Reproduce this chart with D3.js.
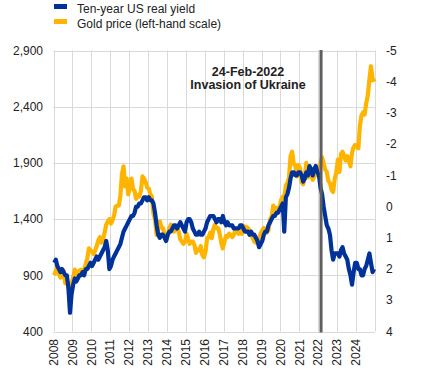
<!DOCTYPE html>
<html>
<head>
<meta charset="utf-8">
<script src="https://cdn.jsdelivr.net/npm/d3@7"></script>
<style>
  body { margin: 0; background: #fff; }
  text { font-family: Arial, "Liberation Sans", sans-serif; fill: #222; }
</style>
</head>
<body>
<div class="board"></div>
<script>
// monthly values, Jan 2008 - Dec 2024
var startYear = 2008;
var yearTicks = [2008, 2009, 2010, 2011, 2012, 2013, 2014, 2015, 2016, 2017, 2018, 2019, 2020, 2021, 2022, 2023, 2024];
var goldTicks = [400, 900, 1400, 1900, 2400, 2900];
var yieldTicks = [-5, -4, -3, -2, -1, 0, 1, 2, 3, 4];

var goldPrice = [
  900, 940, 980, 910, 880, 890, 940, 830, 840, 790, 750, 820,
  880, 950, 930, 890, 940, 950, 940, 950, 1000, 1050, 1140, 1120,
  1110, 1090, 1120, 1160, 1210, 1240, 1190, 1220, 1280, 1350, 1380, 1400,
  1360, 1390, 1430, 1510, 1520, 1520, 1600, 1800, 1870, 1690, 1760, 1620,
  1680, 1760, 1670, 1650, 1580, 1610, 1600, 1650, 1780, 1760, 1730, 1680,
  1670, 1620, 1600, 1450, 1400, 1260, 1300, 1380, 1330, 1320, 1260, 1210,
  1250, 1320, 1350, 1300, 1290, 1310, 1320, 1290, 1220, 1200, 1180, 1200,
  1270, 1220, 1180, 1200, 1200, 1170, 1100, 1130, 1120, 1160, 1080, 1060,
  1110, 1230, 1240, 1280, 1230, 1310, 1350, 1320, 1320, 1270, 1190, 1140,
  1200, 1250, 1240, 1270, 1260, 1240, 1260, 1310, 1290, 1270, 1280, 1270,
  1340, 1320, 1330, 1320, 1300, 1260, 1230, 1200, 1190, 1220, 1220, 1270,
  1300, 1320, 1300, 1280, 1300, 1400, 1420, 1520, 1490, 1500, 1460, 1510,
  1570, 1600, 1580, 1700, 1720, 1770, 1960, 2000, 1890, 1880, 1780, 1880,
  1850, 1730, 1710, 1770, 1900, 1770, 1810, 1810, 1750, 1780, 1790, 1800,
  1800, 1900, 1950, 1900, 1840, 1820, 1740, 1720, 1660, 1640, 1760, 1810,
  1930, 1820, 1980, 2000, 1960, 1920, 1960, 1920, 1870, 1990, 2040, 2060,
  2040, 2030, 2230, 2320, 2350, 2330, 2430, 2500, 2640, 2760, 2650, 2620
];

var realYield = [
  1.8, 1.7, 1.9, 2.0, 2.1, 2.0, 2.1, 2.2, 2.2, 2.6, 3.4, 2.8,
  2.5, 2.3, 2.4, 2.3, 2.2, 2.2, 2.1, 2.2, 2.0, 2.0, 1.9, 1.8,
  1.9, 1.8, 1.7, 1.6, 1.7, 1.6, 1.5, 1.4, 1.3, 1.1, 1.4, 2.0,
  1.9, 1.7, 1.6, 1.5, 1.4, 1.3, 1.2, 1.0, 0.8, 0.7, 0.6, 0.5,
  0.4, 0.3, 0.3, 0.2, 0.0, 0.0, -0.1, -0.1, -0.2, -0.3, -0.3, -0.2,
  -0.3, -0.2, -0.2, -0.1, 0.2, 0.6, 0.9, 1.0, 0.9, 0.9, 1.0, 1.1,
  0.9, 0.8, 0.8, 0.7, 0.6, 0.6, 0.7, 0.6, 0.5, 0.6, 0.7, 0.8,
  0.5, 0.4, 0.4, 0.5, 0.7, 0.8, 0.9, 0.9, 0.8, 0.9, 0.9, 0.8,
  0.7, 0.5, 0.4, 0.3, 0.3, 0.3, 0.4, 0.5, 0.4, 0.4, 0.5, 0.3,
  0.5, 0.6, 0.5, 0.6, 0.6, 0.6, 0.7, 0.7, 0.7, 0.7, 0.6, 0.6,
  0.7, 0.8, 0.8, 0.8, 0.9, 0.8, 0.9, 0.9, 1.0, 1.1, 1.3, 1.2,
  1.1, 0.9, 0.8, 0.8, 0.6, 0.5, 0.4, 0.3, 0.3, 0.2, 0.2, 0.1,
  0.0, -0.1, 0.8, -0.3, -0.4, -0.6, -0.9, -1.1, -1.1, -1.0, -1.0, -1.1,
  -1.1, -1.0, -0.8, -0.9, -1.1, -1.0, -1.3, -1.2, -1.0, -1.2, -1.3, -1.1,
  -1.0, -0.6, -0.4, 0.0, 0.3, 0.6, 0.7, 0.9, 1.4, 1.7, 1.5, 1.5,
  1.5, 1.6, 1.4, 1.3, 1.5, 1.6, 1.7, 2.0, 2.2, 2.5, 2.1, 1.8,
  1.8, 2.0, 2.0, 2.2, 2.2, 2.0, 1.9, 1.7, 1.5, 1.8, 2.1, 2.0
];

var invasionDate = new Date(2022, 1, 24);

var width = 437;
var height = 373;
var plotLeft = 53.5, plotRight = 375, plotTop = 50.5, plotBottom = 331.5;

var svg = d3.select('.board')
            .append('svg')
            .attr('width', width)
            .attr('height', height);

var monthDate = function(i) {
  return new Date(startYear + Math.floor(i / 12), i % 12, 15);
};

var x = d3.scaleTime()
          .domain([new Date(2008, 0, 1), new Date(2025, 0, 1)])
          .range([plotLeft, plotRight]);
var yGold = d3.scaleLinear().domain([400, 2900]).range([plotBottom, plotTop]);
var yYield = d3.scaleLinear().domain([-5, 4]).range([plotTop, plotBottom]);

// grid
var gridYears = yearTicks.concat([2025]);
svg.selectAll('.vgrid')
   .data(gridYears)
   .enter()
   .append('line')
   .attr('x1', function(d) { return Math.round(x(new Date(d, 0, 1))) + 0.5; })
   .attr('x2', function(d) { return Math.round(x(new Date(d, 0, 1))) + 0.5; })
   .attr('y1', plotTop)
   .attr('y2', plotBottom)
   .style('stroke', '#d9d9d9')
   .style('stroke-width', 1);

svg.selectAll('.hgrid')
   .data(goldTicks)
   .enter()
   .append('line')
   .attr('x1', plotLeft)
   .attr('x2', plotRight)
   .attr('y1', function(d) { return Math.round(yGold(d)) + 0.5; })
   .attr('y2', function(d) { return Math.round(yGold(d)) + 0.5; })
   .style('stroke', '#d9d9d9')
   .style('stroke-width', 1);

// left axis
svg.selectAll('.ltick')
   .data(goldTicks)
   .enter()
   .append('text')
   .attr('x', 43)
   .attr('y', function(d) { return yGold(d); })
   .attr('dy', '0.35em')
   .attr('text-anchor', 'end')
   .style('font-size', '12px')
   .text(d3.format(','));

// right axis
svg.selectAll('.rtick')
   .data(yieldTicks)
   .enter()
   .append('text')
   .attr('x', 386)
   .attr('y', function(d) { return yYield(d); })
   .attr('dy', '0.35em')
   .style('font-size', '12px')
   .text(function(d) { return d; });

// year labels
svg.selectAll('.xtick')
   .data(yearTicks)
   .enter()
   .append('text')
   .attr('transform', function(d) {
     return 'translate(' + x(new Date(d, 0, 1)) + ',' + 339 + ') rotate(-90)';
   })
   .attr('dy', '0.35em')
   .attr('text-anchor', 'end')
   .style('font-size', '12px')
   .text(function(d) { return d; });

// series
var goldLine = d3.line()
                 .x(function(d, i) { return x(monthDate(i)); })
                 .y(function(d) { return yGold(d); });
var yieldLine = d3.line()
                  .x(function(d, i) { return x(monthDate(i)); })
                  .y(function(d) { return yYield(d); });

svg.append('path')
   .datum(goldPrice)
   .attr('d', goldLine)
   .style('fill', 'none')
   .style('stroke', '#ffb400')
   .style('stroke-width', 4.2)
   .style('stroke-linejoin', 'round');

svg.append('path')
   .datum(realYield)
   .attr('d', yieldLine)
   .style('fill', 'none')
   .style('stroke', '#003299')
   .style('stroke-width', 4.2)
   .style('stroke-linejoin', 'round');

// invasion marker
svg.append('line')
   .attr('x1', x(invasionDate))
   .attr('x2', x(invasionDate))
   .attr('y1', plotTop - 0.5)
   .attr('y2', plotBottom + 1)
   .style('stroke', '#5f5f5f')
   .style('stroke-width', 3);

svg.append('text')
   .attr('x', 248)
   .attr('y', 76)
   .attr('text-anchor', 'middle')
   .style('font-size', '12.5px')
   .style('font-weight', 'bold')
   .text('24-Feb-2022');
svg.append('text')
   .attr('x', 248)
   .attr('y', 88.5)
   .attr('text-anchor', 'middle')
   .style('font-size', '12.5px')
   .style('font-weight', 'bold')
   .text('Invasion of Ukraine');

// legend
var legend = [
  {label: 'Ten-year US real yield', color: '#003299'},
  {label: 'Gold price (left-hand scale)', color: '#ffb400'}
];
var lg = svg.selectAll('.legend')
            .data(legend)
            .enter()
            .append('g')
            .attr('transform', function(d, i) { return 'translate(0,' + (i * 15) + ')'; });
lg.append('rect')
  .attr('x', 54)
  .attr('y', 4)
  .attr('width', 13)
  .attr('height', 5)
  .style('fill', function(d) { return d.color; });
lg.append('text')
  .attr('x', 77)
  .attr('y', 13)
  .style('font-size', '12px')
  .text(function(d) { return d.label; });
</script>
</body>
</html>
